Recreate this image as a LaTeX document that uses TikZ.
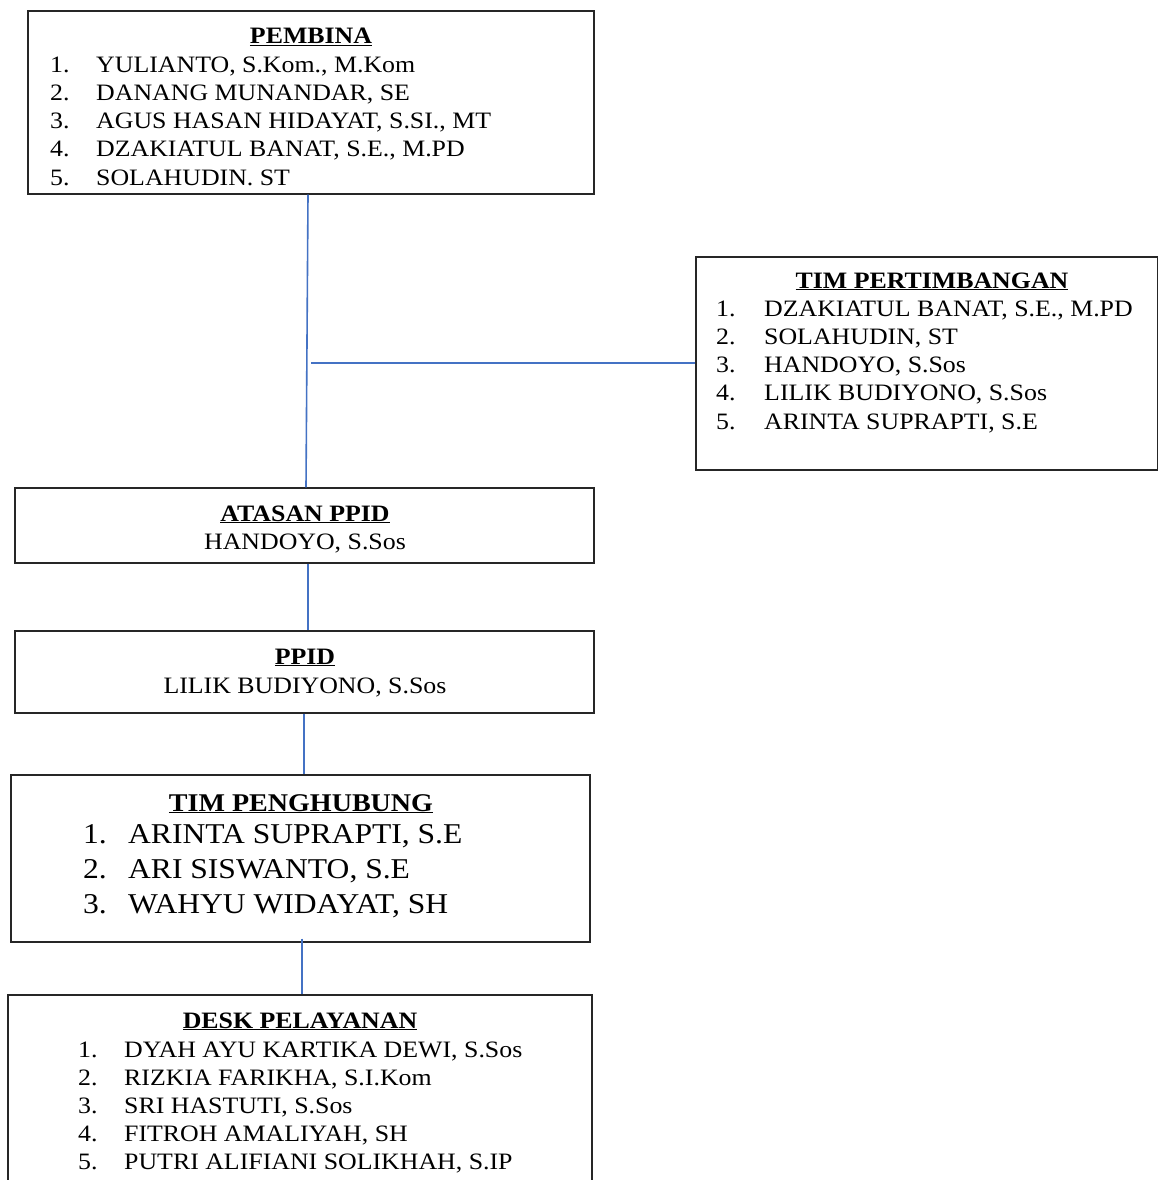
\documentclass[tikz,border=0pt]{standalone}
\usepackage{fontspec}
\setmainfont[FakeStretch=1.1]{Liberation Serif}
\begin{document}
\begin{tikzpicture}[x=1pt,y=-1pt,
  box/.style={draw=black!85,line width=1.3pt,inner sep=0pt,fill=none},
  ttl/.style={anchor=base,inner sep=0pt,font=\fontsize{23.5}{28}\selectfont\bfseries},
  itm/.style={anchor=base west,inner sep=0pt,font=\fontsize{23.5}{28}\selectfont},
  big/.style={anchor=base west,inner sep=0pt,font=\fontsize{28.7}{35}\selectfont},
  ctr/.style={anchor=base,inner sep=0pt,font=\fontsize{23.5}{28}\selectfont}]
\definecolor{lnblue}{HTML}{4472C4}
\tikzset{conn/.style={draw=lnblue,line width=1.6pt}}
\clip (0,0) rectangle (1158,1180);
\fill[white] (0,0) rectangle (1158,1180);
% boxes
\node[box,minimum width=566pt,minimum height=183pt] (pembina) at (311,102.5) {};
\node[box,minimum width=462pt,minimum height=213pt] (tp) at (927,363.5) {};
\node[box,minimum width=579pt,minimum height=75pt] (atasan) at (304.5,525.5) {};
\node[box,minimum width=579pt,minimum height=82pt] (ppid) at (304.5,672) {};
\node[box,minimum width=579pt,minimum height=167pt] (tph) at (300.5,858.5) {};
\node[box,minimum width=584pt,minimum height=205pt] (desk) at (300,1097.5) {};
% PEMBINA
\node[ttl] (t1) at (311,44) {\underline{PEMBINA}};
\foreach \n/\t [count=\i] in {1/{YULIANTO, S.Kom., M.Kom},2/{DANANG MUNANDAR, SE},3/{AGUS HASAN HIDAYAT, S.SI., MT},4/{DZAKIATUL BANAT, S.E., M.PD},5/{SOLAHUDIN. ST}}{
  \node[itm] (pn\i) at (50,44+28.2*\i) {\n.};
  \node[itm] (pt\i) at (96,44+28.2*\i) {\t};
}
% TIM PERTIMBANGAN
\node[ttl] (t2) at (932,288) {\underline{TIM PERTIMBANGAN}};
\foreach \n/\t [count=\i] in {1/{DZAKIATUL BANAT, S.E., M.PD},2/{SOLAHUDIN, ST},3/{HANDOYO, S.Sos},4/{LILIK BUDIYONO, S.Sos},5/{ARINTA SUPRAPTI, S.E}}{
  \node[itm] (qn\i) at (716,288+28.2*\i) {\n.};
  \node[itm] (qt\i) at (764,288+28.2*\i) {\t};
}
% ATASAN PPID
\node[ttl] (t3) at (305,521) {\underline{ATASAN PPID}};
\node[ctr] (a1) at (305,549) {HANDOYO, S.Sos};
% PPID
\node[ttl] (t4) at (305,664) {\underline{PPID}};
\node[ctr] (b1) at (305,693) {LILIK BUDIYONO, S.Sos};
% TIM PENGHUBUNG
\node[ttl,font=\fontsize{25.5}{30}\selectfont\bfseries] (t5) at (301,811) {\underline{TIM PENGHUBUNG}};
\foreach \n/\t [count=\i] in {1/{ARINTA SUPRAPTI, S.E},2/{ARI SISWANTO, S.E},3/{WAHYU WIDAYAT, SH}}{
  \node[big] (rn\i) at (83,808+35*\i) {\n.};
  \node[big] (rt\i) at (128,808+35*\i) {\t};
}
% DESK PELAYANAN
\node[ttl] (t6) at (300,1028) {\underline{DESK PELAYANAN}};
\foreach \n/\t [count=\i] in {1/{DYAH AYU KARTIKA DEWI, S.Sos},2/{RIZKIA FARIKHA, S.I.Kom},3/{SRI HASTUTI, S.Sos},4/{FITROH AMALIYAH, SH},5/{PUTRI ALIFIANI SOLIKHAH, S.IP}}{
  \node[itm] (sn\i) at (78,1029+28*\i) {\n.};
  \node[itm] (st\i) at (124,1029+28*\i) {\t};
}
% connectors
\coordinate (j) at (311,363);
\draw[conn] ([xshift=-3pt]pembina.south) -- ([xshift=1.5pt]atasan.north);
\draw[conn] (j) -- (j -| tp.west);
\draw[conn] ([xshift=3.5pt]atasan.south) -- ([xshift=3.5pt]ppid.north);
\draw[conn] ([xshift=-0.5pt]ppid.south) -- ([xshift=3.5pt]tph.north);
\draw[conn] ([xshift=1.5pt,yshift=4pt]tph.south) -- ([xshift=2pt]desk.north);
\end{tikzpicture}
\end{document}
